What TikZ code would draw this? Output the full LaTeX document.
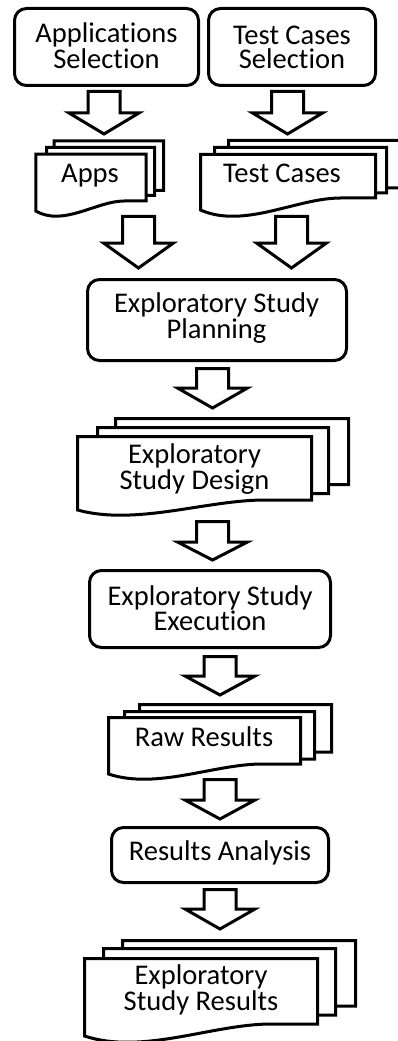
\documentclass[tikz,border=0pt]{standalone}
\usepackage{fontspec}
\setmainfont{Carlito}[Ligatures=NoCommon]

% block arrow pointing down: centre x, top of shaft, base of head, tip
\newcommand\flowarrow[4]{%
  \draw[flow] ({#1-16},#2) -- ({#1+16},#2) -- ({#1+16},#3) -- ({#1+35},#3)
    -- (#1,#4) -- ({#1-35},#3) -- ({#1-16},#3) -- cycle;}

% document sheet with a wavy lower edge: left x, right x, top y, lower-right y, wave drop
\newcommand\docpage[5]{%
  \draw[sheet] (#1,#3) -- (#2,#3) -- (#2,#4) -- ({#1+0.8*(#2-#1)},#4)
    .. controls ({#1+0.55*(#2-#1)},#4) and ({#1+0.25*(#2-#1)},{#4+2.6*#5}) ..
    (#1,{#4+#5}) -- cycle;}

\begin{document}
\begin{tikzpicture}[x=0.75pt,y=-0.75pt,
  proc/.style 2 args={draw, line width=2.25pt, rounded corners=9pt, inner sep=0pt,
    fill=white, minimum width=#1*0.75pt, minimum height=#2*0.75pt},
  sheet/.style={draw, line width=2.25pt, fill=white, line join=miter},
  flow/.style={draw, line width=2.25pt, fill=white, line join=miter},
  % labels are placed by the baseline of their last line
  lbl/.style={font=\fontsize{21.4pt}{18.2pt}\selectfont, inner sep=0pt,
    align=center, anchor=base}]

\useasboundingbox (0,0) rectangle (398,1041);

% selection steps
\node[proc={184}{77}] (selapps) at (106.5,47) {};
\node[proc={167}{77}] (seltests) at (292,47) {};
\node[lbl] (tselapps) at (106.5,68.3) {Applications\\Selection};
\node[lbl] (tseltests) at (292,68.3) {Test Cases\\Selection};

\flowarrow{104}{91.5}{113}{134}
\flowarrow{287.5}{91.5}{113}{134}

% apps documents
\docpage{54.2}{163.5}{140.8}{190.5}{10}
\docpage{46.5}{154.5}{147.5}{195.5}{10}
\docpage{35.8}{146.2}{154.2}{201}{10}
\node[lbl] (tapps) at (90,182.7) {Apps};

% test case documents
\docpage{228.5}{410}{140.5}{188}{12}
\docpage{214.5}{386.5}{147.5}{193}{12}
\docpage{200.5}{375.5}{154.5}{198}{12}
\node[lbl] (ttests) at (282,182.3) {Test Cases};

\flowarrow{138.5}{216.5}{243}{268}
\flowarrow{291.5}{216.5}{243}{268}

% planning
\node[proc={259}{81}] (plan) at (217,320) {};
\node[lbl] (tplan) at (216.5,338) {Exploratory Study\\Planning};

\flowarrow{212.5}{368.5}{388}{408}

% design documents
\docpage{115.5}{348.5}{418.5}{484.5}{9}
\docpage{97.5}{328.5}{427.5}{493.5}{9}
\docpage{77.5}{311.5}{436.5}{500}{10}
\node[lbl] (tdesign) at (194.5,489) {Exploratory\\Study Design};

\flowarrow{212.5}{521.5}{542}{560}

% execution
\node[proc={241}{77}] (exec) at (210,609) {};
\node[lbl] (texec) at (210,630) {Exploratory Study\\Execution};

\flowarrow{220}{656.5}{676}{695}

% raw results documents
\docpage{139.5}{331.5}{704.5}{752}{10}
\docpage{124.5}{314.5}{711.5}{759}{10}
\docpage{108.5}{300.5}{717.5}{764}{10}
\node[lbl] (traw) at (204,746) {Raw Results};

\flowarrow{220}{779.5}{800}{819}

% analysis
\node[proc={217}{55}] (anal) at (220,855) {};
\node[lbl] (tanal) at (220,860.7) {Results Analysis};

\flowarrow{220}{889.5}{909}{929}

% final results documents
\docpage{122.5}{355.5}{940.5}{1006}{12}
\docpage{103.5}{335.5}{948.5}{1015}{12}
\docpage{84.5}{317.5}{958.5}{1024}{12}
\node[lbl] (tres) at (201,1010) {Exploratory\\Study Results};

\end{tikzpicture}
\end{document}
